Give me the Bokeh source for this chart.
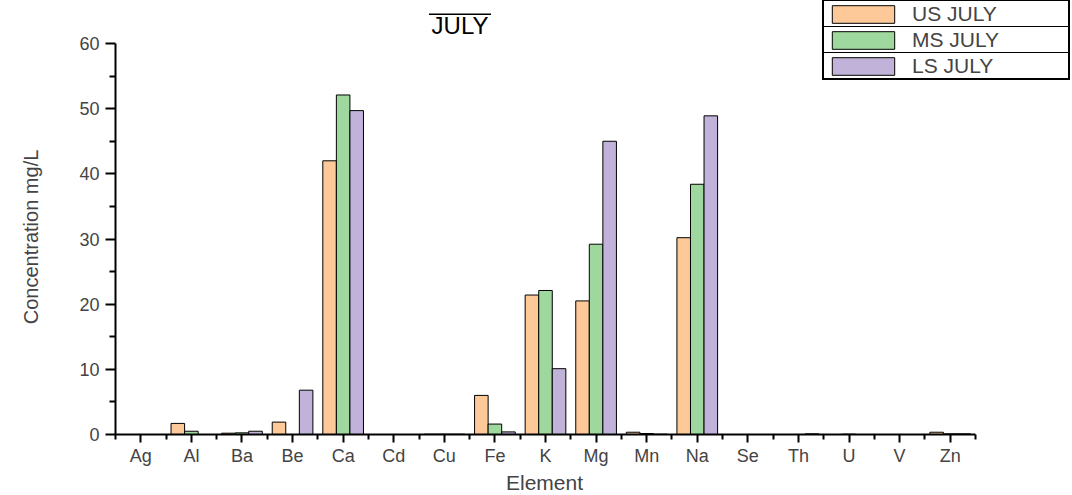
from bokeh.plotting import figure
from bokeh.models import (ColumnDataSource, FixedTicker, Legend, LegendItem, Range1d,
                          BoxAnnotation, Label, Title)
from bokeh.transform import dodge
from bokeh.embed import file_html
from bokeh.resources import INLINE

elements = ["Ag", "Al", "Ba", "Be", "Ca", "Cd", "Cu", "Fe", "K", "Mg",
            "Mn", "Na", "Se", "Th", "U", "V", "Zn"]
us_july = [0, 1.7, 0.2, 1.9, 42.0, 0, 0.05, 6.0, 21.4, 20.5, 0.35, 30.2, 0, 0, 0, 0, 0.35]
ms_july = [0, 0.5, 0.25, 0, 52.1, 0, 0.05, 1.6, 22.1, 29.2, 0.15, 38.4, 0, 0, 0.05, 0, 0.1]
ls_july = [0, 0, 0.5, 6.8, 49.7, 0, 0.05, 0.4, 10.1, 45.0, 0.05, 48.9, 0, 0.1, 0, 0, 0.1]
series_names = ["US JULY", "MS JULY", "LS JULY"]
series_colors = ["#FDC998", "#9ED89E", "#C0B2D8"]
y_ticks = [0, 10, 20, 30, 40, 50, 60]
y_max = 60
title_text = "JULY"
x_title = "Element"
y_title = "Concentration mg/L"

FONT = "Liberation Sans"
NBSP = "\u00a0"

# layout (pixels)
W = 1072
LEFT = 115          # frame left / y axis position
FH = 434            # frame height (x axis position)
FW = W - LEFT
PLOT_W = 860        # width of the axis area
TOP_GAP = 43        # pixels above y = 60
n = len(elements)
x_end = -0.5 + n * FW / PLOT_W
y_end = y_max * FH / (FH - TOP_GAP)

src = ColumnDataSource(dict(
    x=list(range(n)),
    us=us_july, ms=ms_july, ls=ls_july,
))

p = figure(frame_width=FW, frame_height=FH, output_backend="svg", toolbar_location=None,
           x_range=Range1d(-0.5, x_end), y_range=Range1d(0, y_end),
           min_border_left=LEFT, min_border_right=0, min_border_top=0,
           min_border_bottom=0)

bw = 0.268
renderers = []
for col, off, color in zip(["us", "ms", "ls"], [-0.268, 0.0, 0.268], series_colors):
    r = p.vbar(x=dodge("x", off), top=col, bottom=0, width=bw, source=src,
               fill_color=color, line_color="black", line_width=1)
    renderers.append(r)

p.grid.visible = False
p.outline_line_color = None
p.background_fill_color = "white"

# x axis
xa = p.xaxis[0]
xa.bounds = (-0.5, n - 0.5)
xa.ticker = FixedTicker(ticks=list(range(n)),
                        minor_ticks=[i + 0.5 for i in range(-1, n)])
xa.major_label_overrides = {i: e for i, e in enumerate(elements)}
xa.major_label_text_font = FONT
xa.major_label_text_font_size = "18px"
xa.major_label_standoff = 3
xa.major_tick_out = 8
xa.major_tick_in = 0
xa.minor_tick_out = 5
xa.minor_tick_in = 0
xa.axis_line_width = 2
xa.major_tick_line_width = 2
xa.minor_tick_line_width = 2

x_label_w = 77
p.add_layout(Title(text=x_title, text_font=FONT, text_font_size="21px",
                   text_font_style="normal", align="left",
                   offset=544 - LEFT - x_label_w / 2, standoff=0), "below")

# y axis
ya = p.yaxis[0]
ya.bounds = (0, y_max)
ya.ticker = FixedTicker(ticks=y_ticks, minor_ticks=[5, 15, 25, 35, 45, 55])
ya.axis_label = y_title + NBSP * 7
ya.axis_label_text_font = FONT
ya.axis_label_text_font_size = "20px"
ya.axis_label_text_font_style = "normal"
ya.axis_label_standoff = 34
ya.major_label_text_font = FONT
ya.major_label_text_font_size = "18px"
ya.major_label_standoff = 6
ya.major_tick_out = 10
ya.major_tick_in = 0
ya.minor_tick_out = 6
ya.minor_tick_in = 0
ya.axis_line_width = 2
ya.major_tick_line_width = 2
ya.minor_tick_line_width = 2

# title (inside the enlarged frame, screen units relative to the frame)
title_cx = 459.5 - LEFT
p.add_layout(Label(x=title_cx, y=FH - 25, x_units="screen", y_units="screen",
                   text=title_text, text_font=FONT, text_font_size="24px",
                   text_align="center", text_baseline="middle", text_color="black"))
p.add_layout(BoxAnnotation(left=title_cx - 31, right=title_cx + 31,
                           top=FH - 13, bottom=FH - 14.5,
                           left_units="screen", right_units="screen",
                           top_units="screen", bottom_units="screen",
                           fill_color="black", fill_alpha=1, line_color=None))

# legend (Origin-style table: black background shows through 1px gaps between white rows)
LEG_L, LEG_R, LEG_B = 822, 1068, 80
legend = Legend(items=[LegendItem(label=nm, renderers=[r]) for nm, r in zip(series_names, renderers)],
                location=(LEG_L - LEFT, FH - LEG_B))
legend.glyph_width = 78
legend.glyph_height = 22
legend.label_text_font = FONT
legend.label_text_font_size = "21px"
legend.label_standoff = 10
legend.label_height = 25
legend.margin = 0
legend.border_line_color = "black"
legend.border_line_width = 1
legend.background_fill_alpha = 1
if hasattr(Legend, "item_background_policy"):
    legend.padding = 1
    legend.spacing = 1
    legend.label_width = (LEG_R - LEG_L) - 2 - 88
    legend.background_fill_color = "black"
    legend.item_background_policy = "every"
    legend.item_background_fill_color = "white"
    legend.item_background_fill_alpha = 1
else:
    legend.padding = 2
    legend.spacing = 0
    legend.label_width = (LEG_R - LEG_L) - 4 - 88
    legend.background_fill_color = "white"
p.add_layout(legend, "center")

open("out.html", "w").write(file_html(p, INLINE))
